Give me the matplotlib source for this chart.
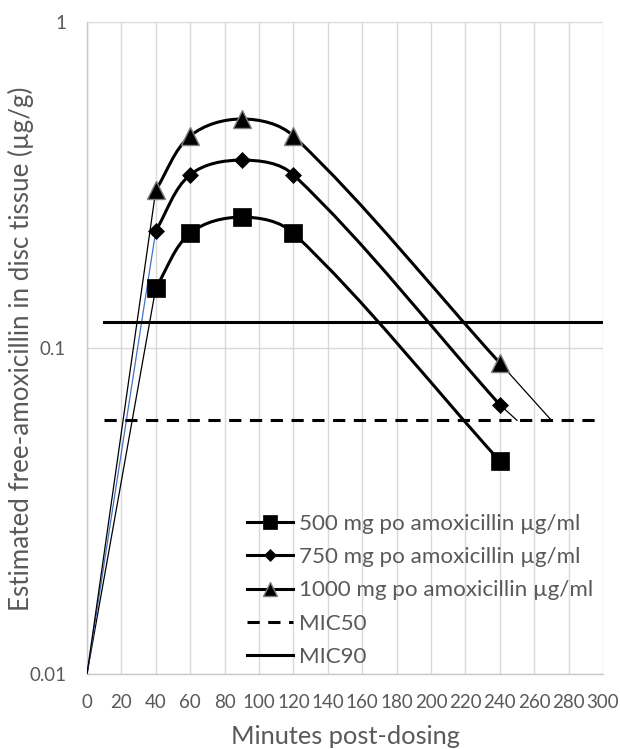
import numpy as np
import matplotlib
matplotlib.use("Agg")
import matplotlib.pyplot as plt
from matplotlib.path import Path
from matplotlib.patches import PathPatch
from matplotlib.lines import Line2D

plt.rcParams['font.family'] = ['Lato', 'DejaVu Sans']

# ---------------- data ----------------
minutes = [40, 60, 90, 120, 240]
dose500 = [0.153, 0.225, 0.252, 0.225, 0.045]
dose750 = [0.229, 0.340, 0.377, 0.340, 0.067]
dose1000 = [0.305, 0.447, 0.504, 0.447, 0.090]

origin_x = 0
origin_y = 0.01

tail750_x = [240, 250]
tail750_y = [0.067, 0.06]
tail1000_x = [240, 270]
tail1000_y = [0.090, 0.06]

mic_x = [10, 300]
mic50 = [0.06, 0.06]
mic90 = [0.12, 0.12]

labels = ["500 mg po amoxicillin µg/ml", "750 mg po amoxicillin µg/ml",
          "1000 mg po amoxicillin µg/ml", "MIC50", "MIC90"]
x_ticks = list(range(0, 301, 20))
y_ticks = [0.01, 0.1, 1]
y_ticklabels = ["0.01", "0.1", "1"]
xlabel = "Minutes post-dosing"
ylabel = "Estimated free-amoxicillin in disc tissue (µg/g)"

# ---------------- style ----------------
TXT = '#595959'
GRID = '#D9D9D9'
LW = 2.2
THIN = 0.9

fig = plt.figure(figsize=(6.2, 7.49), dpi=100)
ax = fig.add_axes([87/620, 1-674/749, (603-87)/620, (674-22)/749])
ax.set_yscale('log')
ax.set_xlim(0, 300)
ax.set_ylim(0.01, 1)


def smooth_path(xs, ys):
    """Excel-like smoothed line: cubic Bezier through the data points,
    tangents computed in display space, mapped back to data coordinates."""
    pts = ax.transData.transform(np.column_stack([xs, ys]))
    n = len(pts)

    def unit(v):
        return v / np.hypot(*v)

    tang = []
    for i in range(n):
        a = pts[max(i - 1, 0)]
        b = pts[min(i + 1, n - 1)]
        tang.append(unit(b - a))
    verts = [pts[0]]
    codes = [Path.MOVETO]
    for i in range(n - 1):
        d = np.hypot(*(pts[i + 1] - pts[i])) / 3.0
        verts += [pts[i] + tang[i] * d, pts[i + 1] - tang[i + 1] * d, pts[i + 1]]
        codes += [Path.CURVE4] * 3
    data_verts = ax.transData.inverted().transform(np.array(verts))
    return Path(data_verts, codes)


series = [
    (dose500, 's', dict(ms=13, mfc='black', mec='black', mew=0.5), '#000000',
     dict(ms=10)),
    (dose750, 'D', dict(ms=8.6, mfc='black', mec='black', mew=0.5), '#4472C4',
     dict(ms=6.6)),
    (dose1000, '^', dict(ms=12.5, mfc='black', mec='#7F7F7F', mew=1.0), '#000000',
     dict(ms=9.5)),
]

handles = []
for vals, mk, mkw, start_col, leg_mkw in series:
    # thin rising line from the origin value to the first sample
    ax.plot([origin_x, minutes[0]], [origin_y, vals[0]], color=start_col,
            lw=THIN, zorder=3)
    # smoothed main curve
    ax.add_patch(PathPatch(smooth_path(minutes, vals), fill=False,
                           edgecolor='black', lw=LW, zorder=4,
                           capstyle='round', joinstyle='round'))
    ax.plot(minutes, vals, ls='none', marker=mk, zorder=5, **mkw)
    handles.append(Line2D([], [], color='black', lw=LW, marker=mk,
                          mfc='black', mec=mkw['mec'], mew=mkw['mew'],
                          **leg_mkw))

ax.plot(tail750_x, tail750_y, color='black', lw=THIN, zorder=3)
ax.plot(tail1000_x, tail1000_y, color='black', lw=THIN, zorder=3)

ax.plot(mic_x, mic50, color='black', lw=LW, dashes=(4.0, 2.8), zorder=4)
ax.plot(mic_x, mic90, color='black', lw=LW, zorder=4)
handles += [Line2D([], [], color='black', lw=LW, dashes=(4.0, 2.8)),
            Line2D([], [], color='black', lw=LW)]

ax.set_xticks(x_ticks)
ax.set_xticklabels([str(t) for t in x_ticks])
ax.set_yticks(y_ticks)
ax.set_yticklabels(y_ticklabels)
ax.yaxis.set_minor_locator(matplotlib.ticker.NullLocator())
ax.grid(True, which='major', color=GRID, lw=1.0)
ax.set_axisbelow(True)
for s in ['top', 'right']:
    ax.spines[s].set_visible(False)
for s in ['left', 'bottom']:
    ax.spines[s].set_color('#C8C8C8')
    ax.spines[s].set_linewidth(1.0)
ax.tick_params(axis='both', length=0, labelsize=13.5, labelcolor=TXT)
ax.tick_params(axis='y', pad=15)
ax.tick_params(axis='x', pad=14.3)

fig.text(345/620, 1-744/749, xlabel, ha='center', va='baseline',
         fontsize=18.3, color=TXT)
fig.text(21/620, 1-349/749, ylabel, ha='center', va='center', rotation=90,
         fontsize=18.7, color=TXT)

leg = ax.legend(handles, labels, loc='upper left',
                bbox_to_anchor=(247/620, 1-513.5/749),
                bbox_transform=fig.transFigure, frameon=False,
                fontsize=16.1, handlelength=2.05, handletextpad=0.27,
                labelspacing=0.6, borderpad=0, borderaxespad=0)
for t in leg.get_texts():
    t.set_color(TXT)

fig.savefig('out.png', dpi=100)
